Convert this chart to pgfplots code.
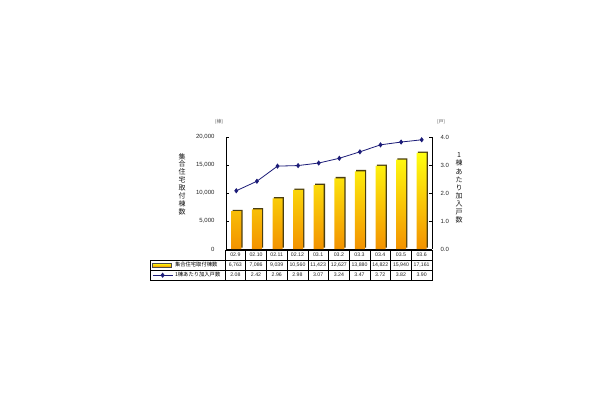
\documentclass[border=0pt]{standalone}
\usepackage{pgfplots}
\pgfplotsset{compat=1.18}
\usepackage{fontspec}
\setmainfont{Liberation Sans}
\newfontfamily\jp{Noto Sans CJK JP}
\definecolor{navy}{HTML}{1C1C78}
\definecolor{baryel}{HTML}{FFFF10}
\definecolor{barorg}{HTML}{F39200}
\definecolor{barshadow}{HTML}{4A3E10}
\pgfplotsset{
  mybar legend/.style={legend image code/.code={\draw[##1,draw=black!70,line width=0.4pt] (0pt,-1.8pt) rectangle (19pt,1.8pt);}},
  myline legend/.style={legend image code/.code={\draw[mark repeat=2,mark phase=2,##1] plot coordinates {(0pt,0pt) (10pt,0pt) (20pt,0pt)};}},
}
\pgfplotstableread{
x units
0 6763
1 7086
2 9039
3 10560
4 11423
5 12627
6 13880
7 14822
8 15940
9 17161
}\units
\pgfplotstableread{
x homes
0 2.08
1 2.42
2 2.96
3 2.98
4 3.07
5 3.24
6 3.47
7 3.72
8 3.82
9 3.90
}\homes
\begin{document}
\begin{tikzpicture}
\useasboundingbox[fill=white] (0pt,0pt) rectangle (610pt,400pt);
\begin{axis}[at={(226pt,151pt)}, anchor=south west, scale only axis,
  width=206pt, height=112pt,
  xmin=-0.5, xmax=9.5, ymin=0, ymax=20000,
  axis y line*=left, axis x line*=bottom,
  xtick=\empty, ytick={0,5000,10000,15000,20000},
  scaled y ticks=false, tick align=inside, major tick length=3pt,
  axis line style={line width=0.6pt, black},
  every tick/.style={black, line width=0.6pt},
  yticklabel style={/pgf/number format/.cd, 1000 sep={,}, assume math mode=true, /tikz/.cd, font=\fontsize{6}{7}\selectfont, xshift=-8pt, text=black!85},
  legend style={at={(-0.3592,-0.0982)}, anchor=north west, draw=none, fill=none,
    inner sep=0pt, row sep=0pt, column sep=2pt,
    nodes={inner sep=0pt, minimum height=10pt},
    font=\jp\fontsize{5.3}{6}\selectfont},
  legend cell align=left,
  clip=false]
\addplot[ybar, bar width=10pt, bar shift=0pt, xshift=1.3pt, yshift=1.3pt, fill=barshadow, draw=none, forget plot] table[x=x,y=units] {\units};
\addplot[ybar, bar width=10pt, bar shift=0pt, top color=baryel, bottom color=barorg, draw=none, mybar legend] table[x=x,y=units] {\units};
\addlegendentry{集合住宅取付棟数}
\addlegendimage{navy, line width=0.8pt, mark=diamond*, mark size=2pt, myline legend}
\addlegendentry{1棟あたり加入戸数}
\end{axis}
\begin{axis}[at={(226pt,151pt)}, anchor=south west, scale only axis,
  width=206pt, height=112pt,
  xmin=-0.5, xmax=9.5, ymin=0, ymax=4,
  axis y line*=right, axis x line=none,
  ytick={0,1,2,3,4}, tick align=inside, major tick length=3pt,
  axis line style={line width=0.6pt, black},
  every tick/.style={black, line width=0.6pt},
  yticklabel style={/pgf/number format/.cd, fixed, fixed zerofill, precision=1, assume math mode=true, /tikz/.cd, font=\fontsize{6}{7}\selectfont, xshift=5pt, text=black!85},
  clip=false]
\addplot[navy, line width=0.8pt, mark=diamond*, mark size=2pt] table[x=x,y=homes] {\homes};
\end{axis}
% axis titles
\node[font=\jp\fontsize{7}{7.9}\selectfont, align=center, text=black!90] at (182pt,216pt) {集\\合\\住\\宅\\取\\付\\棟\\数};
\node[font=\jp\fontsize{7}{8.1}\selectfont, align=center, text=black!90] at (459pt,212pt) {1\\棟\\あ\\た\\り\\加\\入\\戸\\数};
\node[font=\jp\fontsize{5}{6}\selectfont, text=black!60] at (219pt,278pt) {(棟)};
\node[font=\jp\fontsize{5}{6}\selectfont, text=black!60] at (441pt,278pt) {(戸)};
% data table grid
\draw[line width=0.5pt] (225pt,150pt) rectangle (432pt,140pt);
\draw[line width=0.5pt] (150pt,140pt) rectangle (432pt,120pt);
\draw[line width=0.5pt] (150pt,130pt) -- (432pt,130pt);
\foreach \k in {1,...,9} \draw[line width=0.5pt] ({225pt+20.7pt*\k},150pt) -- ({225pt+20.7pt*\k},120pt);
\draw[line width=0.5pt] (225pt,140pt) -- (225pt,120pt);
\foreach \c/\a/\b [count=\i from 0] in {02.9/6{,}763/2.08, 02.10/7{,}086/2.42, 02.11/9{,}039/2.96, 02.12/10{,}560/2.98, 03.1/11{,}423/3.07, 03.2/12{,}627/3.24, 03.3/13{,}880/3.47, 03.4/14{,}822/3.72, 03.5/15{,}940/3.82, 03.6/17{,}161/3.90}{
  \node[font=\fontsize{5.2}{6}\selectfont, text=black!85] at ({225pt+20.7pt*(\i+0.5)},145pt) {\c};
  \node[font=\fontsize{5.2}{6}\selectfont, text=black!85] at ({225pt+20.7pt*(\i+0.5)},135pt) {\a};
  \node[font=\fontsize{5.2}{6}\selectfont, text=black!85] at ({225pt+20.7pt*(\i+0.5)},125pt) {\b};
}
\end{tikzpicture}
\end{document}
